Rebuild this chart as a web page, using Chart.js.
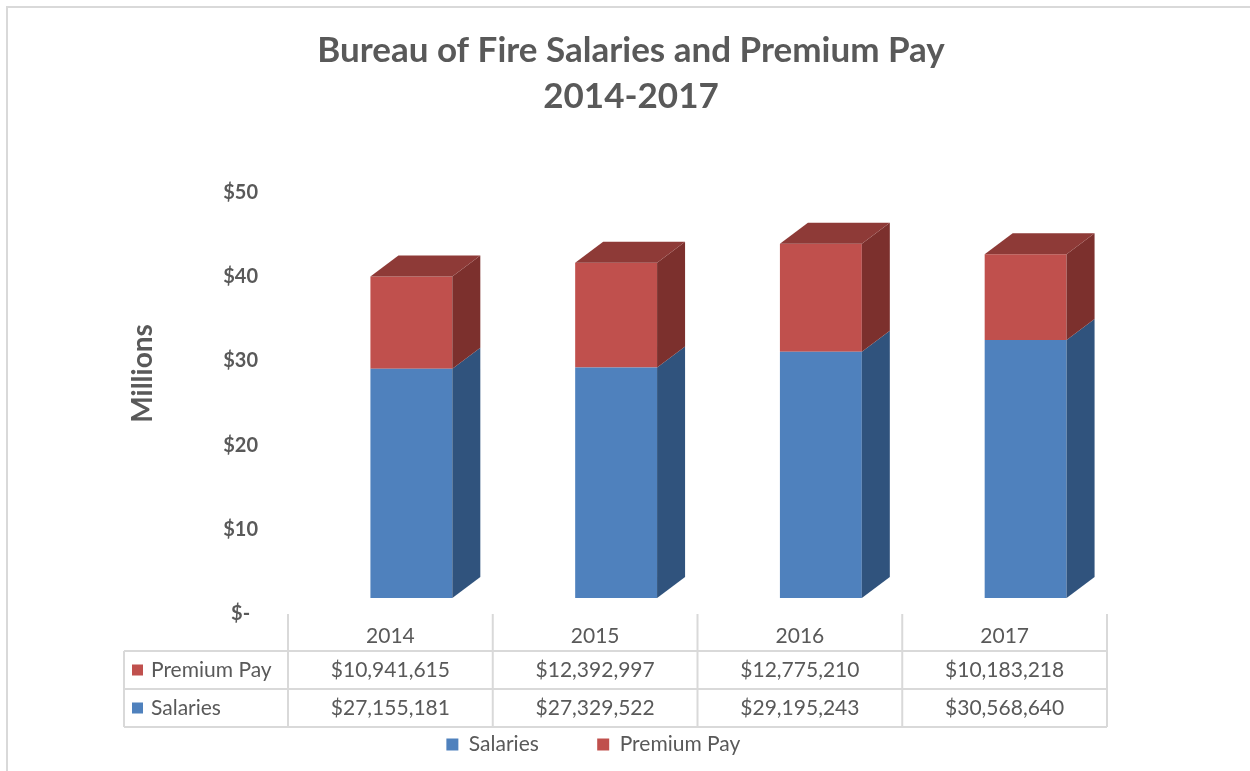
<!DOCTYPE html>
<html>
<head>
<meta charset="utf-8">
<title>Bureau of Fire Salaries and Premium Pay</title>
<script src="https://cdn.jsdelivr.net/npm/chart.js@4.4.0/dist/chart.umd.min.js"></script>
<style>
  html, body { margin: 0; padding: 0; background: #fff; }
  canvas { display: block; }
</style>
</head>
<body>
<canvas id="fireChart" width="1250" height="771"></canvas>
<script>
/* data */
const years = ['2014', '2015', '2016', '2017'];
const salaries = [27155181, 27329522, 29195243, 30568640];
const premiumPay = [10941615, 12392997, 12775210, 10183218];
const yTicks = [0, 10000000, 20000000, 30000000, 40000000, 50000000];

const grey = '#595959';
const font = 'Lato';

/* fake 3D: side + top faces drawn next to the flat front faces */
const depth = { dx: 28, dy: 21 };
const box3d = {
  id: 'box3d',
  afterDatasetsDraw(chart) {
    const ctx = chart.ctx;
    const last = chart.data.datasets.length - 1;
    ctx.save();
    chart.data.datasets.forEach((ds, di) => {
      chart.getDatasetMeta(di).data.forEach(bar => {
        const { x, y, base, width } = bar.getProps(['x', 'y', 'base', 'width'], true);
        const l = x - width / 2, r = x + width / 2;
        ctx.fillStyle = ds.sideColor;
        ctx.beginPath();
        ctx.moveTo(r, y);
        ctx.lineTo(r + depth.dx, y - depth.dy);
        ctx.lineTo(r + depth.dx, base - depth.dy);
        ctx.lineTo(r, base);
        ctx.closePath();
        ctx.fill();
        if (di === last) {
          ctx.fillStyle = ds.topColor;
          ctx.beginPath();
          ctx.moveTo(l, y);
          ctx.lineTo(l + depth.dx, y - depth.dy);
          ctx.lineTo(r + depth.dx, y - depth.dy);
          ctx.lineTo(r, y);
          ctx.closePath();
          ctx.fill();
        }
      });
    });
    ctx.restore();
  }
};

/* data table under the plot, columns follow the x scale */
const tableShift = 21;
const dataTable = {
  id: 'dataTable',
  beforeDraw(chart) {
    const ctx = chart.ctx;
    ctx.save();
    ctx.fillStyle = '#fff';
    ctx.fillRect(0, 0, chart.width, chart.height);
    ctx.strokeStyle = '#D9D9D9';
    ctx.lineWidth = 2;
    ctx.strokeRect(7, 7, chart.width + 20, chart.height + 20);
    ctx.restore();
  },
  afterDraw(chart) {
    const { ctx, chartArea, scales: { x } } = chart;
    const bounds = [];
    for (let i = 0; i <= years.length; i++) bounds.push(x.getPixelForValue(i - 0.5) - tableShift);
    const top = chartArea.bottom + 16;
    const rowY = [chartArea.bottom + 53, chartArea.bottom + 91, chartArea.bottom + 129];
    const left = 124, right = bounds[bounds.length - 1];

    ctx.save();
    ctx.strokeStyle = '#D9D9D9';
    ctx.lineWidth = 2;
    ctx.beginPath();
    bounds.forEach(bx => { ctx.moveTo(bx, top); ctx.lineTo(bx, rowY[2]); });
    ctx.moveTo(left, rowY[0]); ctx.lineTo(left, rowY[2]);
    rowY.forEach(ry => { ctx.moveTo(left, ry); ctx.lineTo(right, ry); });
    ctx.stroke();

    const rows = chart.data.datasets.slice().reverse();
    ctx.font = `21px ${font}`;
    ctx.textBaseline = 'middle';
    rows.forEach((ds, ri) => {
      const cy = (rowY[ri] + rowY[ri + 1]) / 2;
      ctx.fillStyle = ds.backgroundColor;
      ctx.fillRect(132, cy - 5.5, 11, 11);
      ctx.fillStyle = grey;
      ctx.textAlign = 'left';
      ctx.fillText(ds.label, 151, cy);
      ctx.textAlign = 'center';
      ds.data.forEach((v, i) => {
        ctx.fillText('$' + v.toLocaleString('en-US'), (bounds[i] + bounds[i + 1]) / 2, cy);
      });
    });
    ctx.restore();
  }
};

new Chart(document.getElementById('fireChart'), {
  type: 'bar',
  data: {
    labels: years,
    datasets: [
      {
        label: 'Salaries',
        data: salaries,
        backgroundColor: '#4F81BD',
        sideColor: '#30537D',
        topColor: '#3B6394'
      },
      {
        label: 'Premium Pay',
        data: premiumPay,
        backgroundColor: '#C0504D',
        sideColor: '#7C302D',
        topColor: '#8E3A37'
      }
    ]
  },
  options: {
    responsive: false,
    animation: false,
    layout: { padding: { left: 134, right: 122, top: 0, bottom: 6 } },
    datasets: { bar: { barPercentage: 0.4, categoryPercentage: 1 } },
    scales: {
      x: {
        stacked: true,
        grid: { display: false, drawTicks: false },
        border: { display: false },
        ticks: { color: grey, font: { family: font, size: 21 }, padding: 26, labelOffset: -tableShift },
        afterFit(scale) { scale.height = 126; }
      },
      y: {
        stacked: true,
        min: 0,
        max: 50000000,
        grid: { display: false, drawTicks: false },
        border: { display: false },
        afterBuildTicks(scale) { scale.ticks = yTicks.map(v => ({ value: v })); },
        ticks: {
          color: grey,
          font: { family: font, size: 20, weight: 'bold' },
          crossAlign: 'center',
          padding: 51,
          labelOffset: 16,
          callback: v => v === 0 ? '$-' : '$' + (v / 1000000)
        },
        title: {
          display: true,
          text: '    Millions',
          color: grey,
          font: { family: font, size: 28, weight: 'bold' },
          padding: { top: -8, bottom: 0 }
        },
        afterFit(scale) { scale.width = 175; }
      }
    },
    plugins: {
      title: {
        display: true,
        text: ['Bureau of Fire Salaries and Premium Pay', '2014-2017'],
        color: grey,
        font: { family: font, size: 35, weight: 'bold', lineHeight: 1.33 },
        padding: { top: 27, bottom: 56 }
      },
      legend: {
        position: 'bottom',
        labels: {
          color: grey,
          font: { family: font, size: 21 },
          boxWidth: 12,
          boxHeight: 12,
          padding: 10,
          generateLabels(chart) {
            const items = Chart.defaults.plugins.legend.labels.generateLabels(chart);
            items[0].text += ' '.repeat(9);
            items[1].text += ' '.repeat(14);
            return items;
          }
        }
      },
      tooltip: { enabled: false }
    }
  },
  plugins: [box3d, dataTable]
});
</script>
</body>
</html>
